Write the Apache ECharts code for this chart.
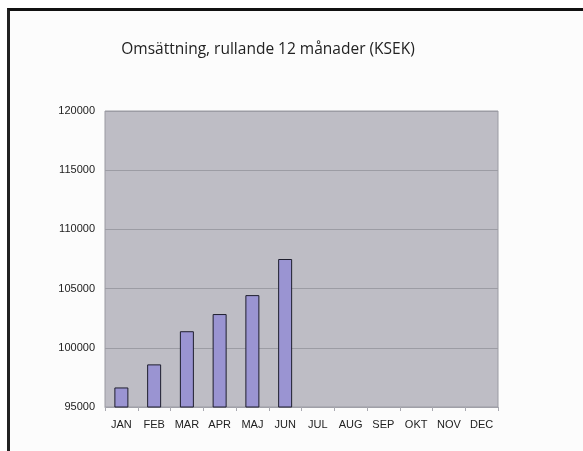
<!DOCTYPE html>
<html><head><meta charset="utf-8">
<script src="https://cdn.jsdelivr.net/npm/echarts@6/dist/echarts.min.js"></script>
<style>
html,body{margin:0;padding:0;background:#fff;}
#frame{position:absolute;left:7px;top:8px;width:583px;height:451px;border-top:3px solid #111;border-left:3px solid #222;box-sizing:border-box;background:#fcfcfc;}
#c{position:absolute;left:0;top:0;width:583px;height:451px;}
</style></head>
<body>
<div id="frame"></div>
<div id="c"></div>
<script>
const categories = ['JAN','FEB','MAR','APR','MAJ','JUN','JUL','AUG','SEP','OKT','NOV','DEC'];
const values = [96650, 98600, 101400, 102850, 104450, 107500, null, null, null, null, null, null];
const yMin = 95000, yMax = 120000, yStep = 5000;

const chart = echarts.init(document.getElementById('c'), null, {renderer:'canvas'});
chart.setOption({
  backgroundColor: 'transparent',
  animation: false,
  title: {
    text: 'Omsättning, rullande 12 månader (KSEK)',
    left: 263, top: 37, textAlign: 'center',
    textStyle: {fontFamily: 'Open Sans', fontWeight: 'normal', fontSize: 15.5, color: '#222'}
  },
  grid: {left: 105, top: 111, width: 393, height: 296, show: true, backgroundColor: '#bebdc5', borderColor: '#9a9aa2', borderWidth: 1},
  xAxis: {
    type: 'category', data: categories,
    axisLine: {show: true, lineStyle: {color: '#a0a0a8', width: 1}},
    axisTick: {show: true, length: 4, lineStyle: {color: '#a8a8b0'}},
    axisLabel: {fontFamily: 'Liberation Sans', fontSize: 11, color: '#222', margin: 12}
  },
  yAxis: {
    type: 'value', min: yMin, max: yMax, interval: yStep,
    axisLine: {show: false}, axisTick: {show: false},
    axisLabel: {fontFamily: 'Liberation Sans', fontSize: 11, color: '#222', margin: 10, formatter: v => String(v)},
    splitLine: {show: true, lineStyle: {color: '#9c9ca4', width: 1}}
  },
  series: [{
    type: 'bar', data: values, barWidth: 14,
    itemStyle: {color: '#9a94d2', borderColor: '#1e1e2e', borderWidth: 1}
  }]
});
</script>
</body></html>
